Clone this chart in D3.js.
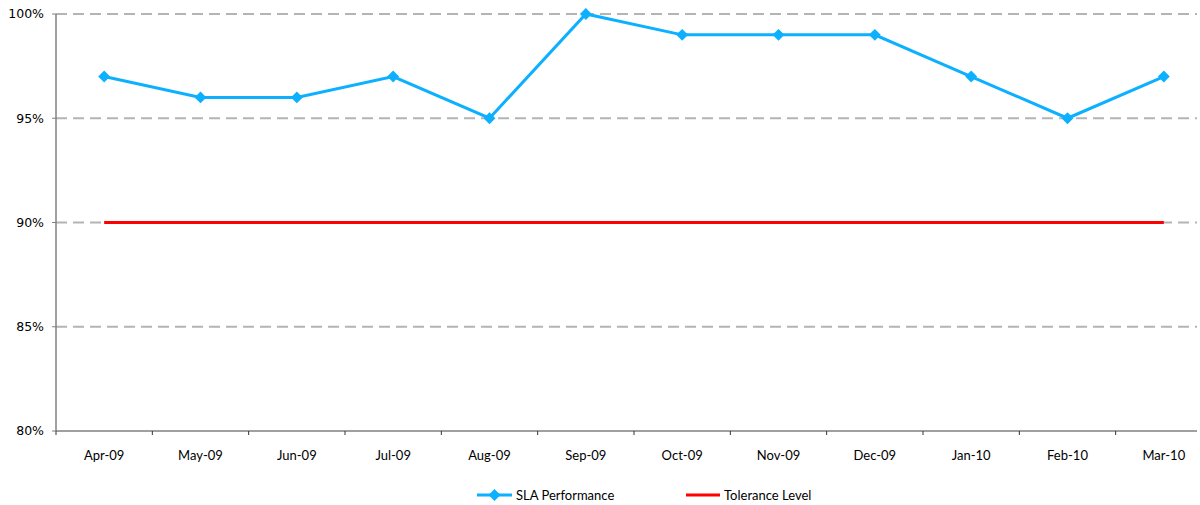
<!DOCTYPE html>
<html>
<head>
<meta charset="utf-8">
<script src="https://cdn.jsdelivr.net/npm/d3@7"></script>
<style>
  body { margin: 0; background: #fff; }
  .ylab { font-family: "DejaVu Sans", Verdana, sans-serif; font-size: 12.5px; fill: #000; }
  .xlab, .leg { font-family: "Comic Sans MS", "Lato", sans-serif; font-size: 13px; fill: #000; }
</style>
</head>
<body>
<svg id="chart" width="1200" height="505"></svg>
<script>
// months on the x axis
var months = ["Apr-09", "May-09", "Jun-09", "Jul-09", "Aug-09", "Sep-09",
  "Oct-09", "Nov-09", "Dec-09", "Jan-10", "Feb-10", "Mar-10"];
// SLA performance, percent
var slaValues = [97, 96, 96, 97, 95, 100, 99, 99, 99, 97, 95, 97];
// tolerance level, percent
var toleranceValues = [90, 90, 90, 90, 90, 90, 90, 90, 90, 90, 90, 90];
var yTicks = [80, 85, 90, 95, 100];

(function() {
  var svg = d3.select('#chart');

  // plot edges, px (band scale runs past the window like the original)
  var pLeft = 56, pRight = 1212, pTop = 14, pBottom = 431, drawEnd = 1197;

  var x = d3.scaleBand().domain(months).range([pLeft, pRight]);
  var y = d3.scaleLinear().domain([80, 100]).range([pBottom, pTop]);
  var cx = function(m) { return x(m) + x.bandwidth() / 2; };

  // dashed gridlines
  svg.append('g').selectAll('line').data(yTicks.filter(function(t) { return t > 80; }))
    .enter().append('line')
      .attr('x1', pLeft).attr('x2', drawEnd)
      .attr('y1', function(d) { return y(d); }).attr('y2', function(d) { return y(d); })
      .attr('stroke', '#b4b4b4').attr('stroke-width', 1.8)
      .attr('stroke-dasharray', '11,6');

  // y axis
  svg.append('line')
    .attr('x1', pLeft).attr('x2', pLeft).attr('y1', pTop).attr('y2', pBottom)
    .attr('stroke', '#808080').attr('stroke-width', 1.5);
  svg.append('g').selectAll('line').data(yTicks).enter().append('line')
    .attr('x1', pLeft - 4).attr('x2', pLeft)
    .attr('y1', function(d) { return y(d); }).attr('y2', function(d) { return y(d); })
    .attr('stroke', '#808080');
  svg.append('g').selectAll('text').data(yTicks).enter().append('text')
    .attr('class', 'ylab')
    .attr('x', pLeft - 12).attr('y', function(d) { return y(d); })
    .attr('dy', '0.35em').attr('text-anchor', 'end')
    .text(function(d) { return d + '%'; });

  // x axis
  svg.append('line')
    .attr('x1', pLeft).attr('x2', drawEnd).attr('y1', pBottom).attr('y2', pBottom)
    .attr('stroke', '#808080').attr('stroke-width', 1.5);
  svg.append('g').selectAll('line').data(months).enter().append('line')
    .attr('x1', function(d) { return x(d); }).attr('x2', function(d) { return x(d); })
    .attr('y1', pBottom).attr('y2', pBottom + 4)
    .attr('stroke', '#333');
  svg.append('g').selectAll('text').data(months).enter().append('text')
    .attr('class', 'xlab')
    .attr('x', function(d) { return cx(d); }).attr('y', pBottom + 29)
    .attr('text-anchor', 'middle')
    .text(function(d) { return d; });

  var line = d3.line()
    .x(function(d, i) { return cx(months[i]); })
    .y(function(d) { return y(d); });

  // tolerance line
  svg.append('path').datum(toleranceValues)
    .attr('d', line).attr('fill', 'none')
    .attr('stroke', '#ff0000').attr('stroke-width', 3);

  // SLA line + diamonds
  svg.append('path').datum(slaValues)
    .attr('d', line).attr('fill', 'none')
    .attr('stroke', '#0db0ff').attr('stroke-width', 3);
  var diamond = d3.symbol().type(d3.symbolDiamond2).size(90);
  svg.append('g').selectAll('path').data(slaValues).enter().append('path')
    .attr('d', diamond)
    .attr('transform', function(d, i) { return 'translate(' + cx(months[i]) + ',' + y(d) + ')'; })
    .attr('fill', '#0db0ff');

  // legend
  var legY = 495;
  var leg = svg.append('g');
  leg.append('line').attr('x1', 477).attr('x2', 512).attr('y1', legY).attr('y2', legY)
    .attr('stroke', '#0db0ff').attr('stroke-width', 3);
  leg.append('path').attr('d', diamond)
    .attr('transform', 'translate(494.5,' + legY + ')').attr('fill', '#0db0ff');
  leg.append('text').attr('class', 'leg').attr('x', 516).attr('y', legY).attr('dy', '0.35em')
    .text('SLA Performance');
  leg.append('line').attr('x1', 686).attr('x2', 720).attr('y1', legY).attr('y2', legY)
    .attr('stroke', '#ff0000').attr('stroke-width', 3);
  leg.append('text').attr('class', 'leg').attr('x', 724).attr('y', legY).attr('dy', '0.35em')
    .text('Tolerance Level');
})();
</script>
</body>
</html>
